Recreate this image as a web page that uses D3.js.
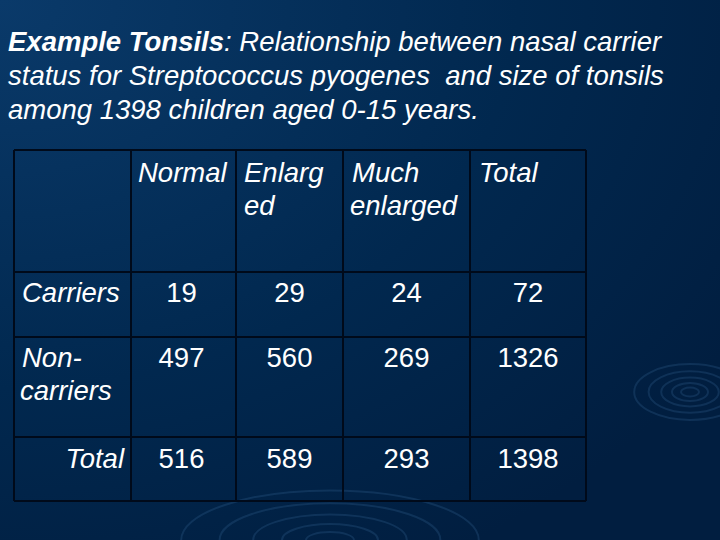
<!DOCTYPE html><html><head><meta charset="utf-8">
<script src="https://cdn.jsdelivr.net/npm/d3@7"></script>
<style>body{margin:0;background:#012550}svg{display:block}</style></head><body>
<svg id="c" width="720" height="540"></svg>
<script>
const columns = ["", "Normal|Enlarg|ed", "Much|enlarged", "Total"];
const rowLabels = ["Carriers", "Non-|carriers", "Total"];
const values = [[19,29,24,72],[497,560,269,1326],[516,589,293,1398]];
const svg = d3.select("#c");
const defs = svg.append("defs");
const g = defs.append("radialGradient").attr("id","bg").attr("cx","0").attr("cy","0").attr("r","1.2");
g.append("stop").attr("offset","0").attr("stop-color","#0a3a6a");
g.append("stop").attr("offset","0.6").attr("stop-color","#01284f");
g.append("stop").attr("offset","1").attr("stop-color","#011e40");
svg.append("rect").attr("width",720).attr("height",540).attr("fill","url(#bg)");
[[690,392],[330,540]].forEach(([cx,cy],k)=>{
  [10,20,32,46,62].forEach(r=>svg.append("ellipse").attr("cx",cx).attr("cy",cy).attr("rx",r*(k?2.4:0.9)).attr("ry",r*(k?0.8:0.45))
   .attr("fill","none").attr("stroke","#3a6a9a").attr("stroke-opacity",0.25).attr("stroke-width",2));
});
const FS=27.5;
const title = ["Example Tonsils: Relationship between nasal carrier","status for Streptococcus pyogenes  and size of tonsils","among 1398 children aged 0-15 years."];
title.forEach((t,i)=>{
  const tx = svg.append("text").attr("x",8).attr("y",51+i*34).attr("fill","#fff").attr("font-family","Liberation Sans, Arial").attr("font-size",FS).attr("font-style","italic").attr("xml:space","preserve");
  if(i===0){tx.append("tspan").attr("font-weight","bold").text("Example Tonsils");tx.append("tspan").text(t.slice(15));}
  else tx.text(t);
});
const xs=[14,131,236,343,470,586], ys=[150,272,337,437,501];
const grid = svg.append("g").attr("stroke","#000a1a").attr("stroke-width",2);
xs.forEach(x=>grid.append("line").attr("x1",x).attr("x2",x).attr("y1",150).attr("y2",501));
ys.forEach(y=>grid.append("line").attr("x1",14).attr("x2",586).attr("y1",y).attr("y2",y));
const txt=(x,y,s,anchor,it)=>svg.append("text").attr("x",x).attr("y",y).attr("fill","#fff").attr("font-family","Liberation Sans, Arial").attr("font-size",FS).attr("font-style",it?"italic":"normal").attr("text-anchor",anchor).text(s);
txt(138,182,"Normal","start",true);
txt(244,182,"Enlarg","start",true);txt(244,215,"ed","start",true);
txt(352,182,"Much","start",true);txt(350,215,"enlarged","start",true);
txt(479,182,"Total","start",true);
const rowY=[302,367,468];
txt(22,302,"Carriers","start",true);
txt(22,367,"Non-","start",true);txt(20,400,"carriers","start",true);
txt(124,468,"Total","end",true);
values.forEach((r,i)=>r.forEach((v,j)=>{
  const cx=(xs[j+1]+xs[j+2])/2 + (j===0?-2:0);
  txt(cx,rowY[i],v,"middle",false);
}));
</script></body></html>
